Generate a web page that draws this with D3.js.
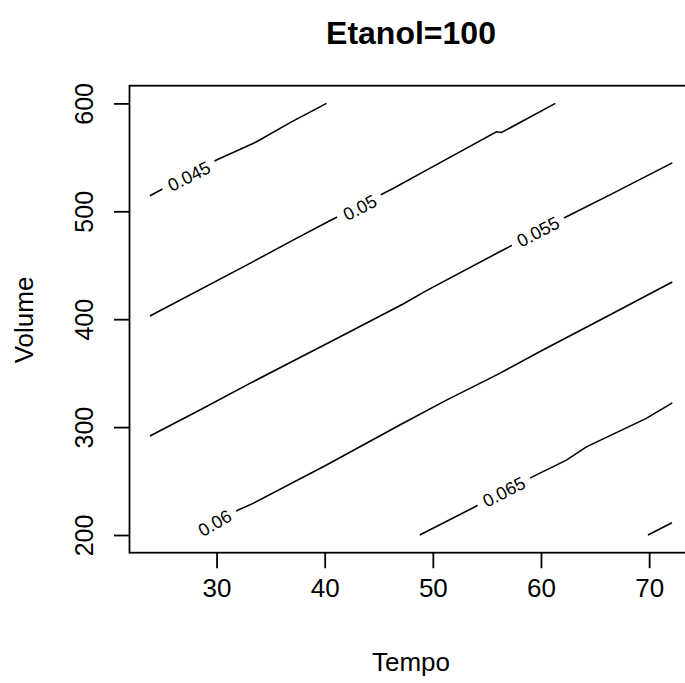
<!DOCTYPE html>
<html>
<head>
<meta charset="utf-8">
<script src="https://cdn.jsdelivr.net/npm/d3@7"></script>
<style>
  body { margin: 0; background: #fff; }
  svg { display: block; font-family: "Liberation Sans", Arial, sans-serif; }
</style>
</head>
<body>
<div id="chart"></div>
<script>
// contour levels, one label per line (last one has no label)
var levels = ['0.045', '0.05', '0.055', '0.06', '0.065', '0.07'];

// contour lines, [Tempo, Volume] pairs
var line045 = [[23.84, 514.4], [30, 547.5], [33.7, 564.4], [36.93, 582.9], [40.17, 600]];
var line050 = [[23.84, 403.0], [33.08, 451.7], [36.77, 471.7], [40.47, 491.2], [46.32, 521.2],
               [49.71, 539.8], [55.88, 573.7], [56.34, 573.0], [61.33, 600]];
var line055 = [[23.84, 291.7], [28.46, 315.8], [33.08, 340.5], [36.77, 359.6], [42.01, 386.8],
               [47.25, 414.1], [49.41, 426.5], [56.18, 462.5], [62.35, 494.9], [66.65, 516.6], [72.14, 544.9]];
var line060 = [[28.3, 200], [32.0, 223.1], [33.38, 229.3], [40.17, 264.8], [46.94, 301.9],
               [51.26, 325.0], [56.18, 349.8], [60, 370.5], [66, 402], [72.14, 434.5]];
var line065 = [[48.79, 200], [54.03, 226.8], [59.11, 253.4], [62.35, 269.4], [64.2, 281.7],
               [69.74, 308.1], [72.14, 322.5]];
var line070 = [[69.89, 200], [72.11, 211.4]];
var contourLines = [line045, line050, line055, line060, line065, line070];

// label centres (null = no label)
var labelX = [27.46, 43.25, 59.73, 29.84, 56.57, null];
var labelY = [532.5, 503.4, 481.0, 211.1, 240.0, null];

// ticks
var xTicks = [30, 40, 50, 60, 70];
var yTicks = [200, 300, 400, 500, 600];

var W = 685, H = 683;
var svg = d3.select('#chart').append('svg')
            .attr('width', W)
            .attr('height', H);

// plot region (the right edge falls outside the picture)
var pLeft = 129.5, pRight = 691.3, pTop = 85.7, pBottom = 552.7;

var xScale = d3.scaleLinear()
                .domain([21.95, 73.9])
                .range([pLeft, pRight]);
var yScale = d3.scaleLinear()
                .domain([183.6, 616.4])
                .range([pBottom, pTop]);

// box
svg.append('rect')
    .attr('x', pLeft)
    .attr('y', pTop)
    .attr('width', pRight - pLeft)
    .attr('height', pBottom - pTop)
    .attr('fill', 'none')
    .attr('stroke', '#000')
    .attr('stroke-width', 1.8);

// axes
var xAxis = d3.axisBottom(xScale)
                .tickValues(xTicks)
                .tickSize(15.5)
                .tickPadding(10);
var xAxisG = svg.append('g')
                .attr('transform', 'translate(0,' + pBottom + ')')
                .call(xAxis);
xAxisG.select('.domain').remove();
xAxisG.selectAll('line').attr('stroke-width', 1.8);
xAxisG.selectAll('text')
        .attr('font-size', 26)
        .attr('font-family', '"Liberation Sans", Arial, sans-serif')
        .attr('fill', '#000');

var yAxis = d3.axisLeft(yScale)
                .tickValues(yTicks)
                .tickSize(15.5);
var yAxisG = svg.append('g')
                .attr('transform', 'translate(' + pLeft + ',0)')
                .call(yAxis);
yAxisG.select('.domain').remove();
yAxisG.selectAll('line').attr('stroke-width', 1.8);
// rotated tick labels like R's default las=0
yAxisG.selectAll('text')
        .attr('x', null)
        .attr('dy', null)
        .attr('text-anchor', 'middle')
        .attr('transform', 'translate(' + (92.7 - pLeft) + ',0) rotate(-90)')
        .attr('font-size', 25)
        .attr('font-family', '"Liberation Sans", Arial, sans-serif')
        .attr('fill', '#000');

// contour lines
var line = d3.line()
                .x(function(d) { return xScale(d[0]); })
                .y(function(d) { return yScale(d[1]); });

var plotG = svg.append('g');

plotG.selectAll('path.contour')
    .data(contourLines)
    .enter()
    .append('path')
    .attr('class', 'contour')
    .attr('d', line)
    .attr('fill', 'none')
    .attr('stroke', '#000')
    .attr('stroke-width', 1.6);

// labels, rotated along the local direction of their line
levels.forEach(function(lev, i) {
    if (labelX[i] === null) return;
    var pts = contourLines[i];
    var cx = xScale(labelX[i]), cy = yScale(labelY[i]);
    // find nearest segment for the angle
    var best = 0, bestD = Infinity;
    for (var k = 0; k < pts.length - 1; k++) {
        var mx = (xScale(pts[k][0]) + xScale(pts[k + 1][0])) / 2;
        var my = (yScale(pts[k][1]) + yScale(pts[k + 1][1])) / 2;
        var dd = (mx - cx) * (mx - cx) + (my - cy) * (my - cy);
        if (dd < bestD) { bestD = dd; best = k; }
    }
    var p0 = pts[Math.max(0, best - 1)], p1 = pts[Math.min(pts.length - 1, best + 2)];
    var ang = Math.atan2(yScale(p1[1]) - yScale(p0[1]), xScale(p1[0]) - xScale(p0[0])) * 180 / Math.PI;

    var g = plotG.append('g')
                .attr('transform', 'translate(' + cx + ',' + cy + ') rotate(' + ang + ')');
    var bg = g.append('rect').attr('fill', '#fff');
    var t = g.append('text')
                .attr('text-anchor', 'middle')
                .attr('dy', '0.35em')
                .attr('font-size', 18)
                .attr('fill', '#000')
                .text(lev);
    var bb = t.node().getBBox();
    bg.attr('x', bb.x - 7)
      .attr('y', -10)
      .attr('width', bb.width + 14)
      .attr('height', 20);
});

// titles
svg.append('text')
    .attr('x', 411)
    .attr('y', 44)
    .attr('text-anchor', 'middle')
    .attr('font-size', 32)
    .attr('font-weight', 'bold')
    .text('Etanol=100');

svg.append('text')
    .attr('x', 411)
    .attr('y', 671)
    .attr('text-anchor', 'middle')
    .attr('font-size', 26)
    .text('Tempo');

svg.append('text')
    .attr('transform', 'translate(33,320) rotate(-90)')
    .attr('text-anchor', 'middle')
    .attr('font-size', 26)
    .text('Volume');
</script>
</body>
</html>
